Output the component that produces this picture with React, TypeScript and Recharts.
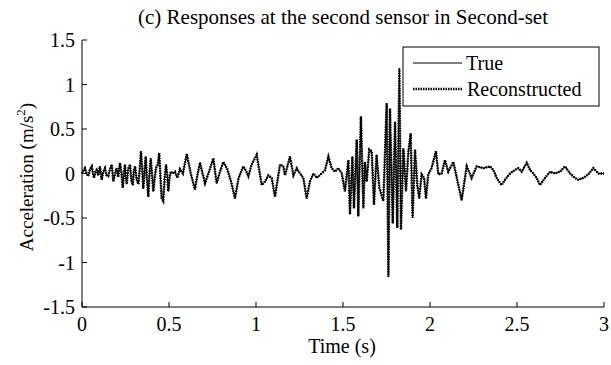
import { LineChart, Line, XAxis, YAxis } from 'recharts';

// [time (s), acceleration (m/s^2)], segment by segment
const quietStart: [number, number][] = [
  [0.0, 0.0], [0.008, 0.03], [0.017, 0.06], [0.026, 0.0], [0.036, -0.03], [0.046, 0.05],
  [0.056, 0.08], [0.063, 0.0], [0.069, -0.05], [0.077, 0.02], [0.084, 0.04], [0.093, -0.02],
  [0.103, 0.08], [0.113, -0.07], [0.122, 0.02], [0.132, 0.06], [0.141, -0.02], [0.151, -0.03],
  [0.161, 0.05], [0.171, 0.1], [0.18, -0.09], [0.19, 0.0], [0.199, 0.06], [0.208, -0.04],
  [0.218, 0.12], [0.226, 0.02], [0.234, -0.16], [0.241, 0.0], [0.247, 0.1], [0.252, -0.05],
  [0.257, -0.12], [0.265, 0.05], [0.276, 0.1], [0.284, -0.08], [0.292, -0.13], [0.298, 0.04],
];

const earlyBurst: [number, number][] = [
  [0.305, 0.08], [0.314, -0.07], [0.324, -0.12], [0.332, 0.05], [0.339, 0.25], [0.346, 0.05],
  [0.352, -0.17], [0.359, 0.0], [0.366, 0.19], [0.373, -0.05], [0.381, -0.26], [0.388, 0.0],
  [0.395, 0.17], [0.402, 0.0], [0.41, -0.2], [0.418, -0.05], [0.425, 0.06], [0.435, 0.1],
  [0.444, 0.23], [0.451, -0.05], [0.458, -0.28], [0.467, -0.31], [0.475, -0.05], [0.483, 0.1],
  [0.49, -0.02], [0.496, -0.2], [0.503, -0.05], [0.51, 0.02],
];

const midWave: [number, number][] = [
  [0.522, 0.0], [0.534, 0.02], [0.548, -0.05], [0.563, 0.05], [0.58, 0.0], [0.602, 0.22],
  [0.625, 0.0], [0.649, -0.18], [0.663, -0.02], [0.678, 0.12], [0.693, 0.0], [0.707, -0.11],
  [0.73, 0.02], [0.755, 0.17], [0.774, -0.11], [0.793, 0.02], [0.812, 0.13], [0.835, 0.05],
  [0.858, -0.1], [0.879, -0.28], [0.9, -0.05], [0.927, 0.08], [0.945, 0.02], [0.956, -0.03],
  [0.975, 0.1], [1.004, 0.21], [1.033, -0.13], [1.052, -0.09], [1.071, -0.02], [1.09, -0.05],
  [1.109, -0.26], [1.138, 0.1], [1.157, 0.08], [1.167, -0.02], [1.195, 0.19], [1.215, -0.02],
  [1.234, 0.06], [1.253, 0.0], [1.272, -0.05], [1.291, -0.28], [1.31, -0.09], [1.33, 0.0],
  [1.349, -0.05], [1.377, 0.0], [1.397, 0.04], [1.416, 0.19], [1.435, 0.06], [1.454, 0.02],
  [1.473, 0.06], [1.493, 0.0], [1.511, -0.2],
];

const mainBurst: [number, number][] = [
  [1.531, 0.15], [1.54, -0.46], [1.554, 0.19], [1.563, -0.39], [1.579, 0.38], [1.588, -0.48],
  [1.603, 0.64], [1.617, -0.39], [1.626, 0.13], [1.636, -0.09], [1.651, 0.27], [1.665, 0.25],
  [1.678, -0.35], [1.693, 0.21], [1.709, -0.16], [1.732, -0.31], [1.751, 0.79], [1.761, -1.16],
  [1.77, 0.73], [1.786, -0.56], [1.799, 0.58], [1.812, -0.61], [1.824, 1.18], [1.833, -0.63],
  [1.847, 0.28], [1.862, -0.2], [1.876, 0.25], [1.889, 0.45], [1.9, -0.5], [1.914, 0.27],
  [1.927, -0.13], [1.938, -0.28], [1.952, -0.01], [1.966, -0.05], [1.977, -0.28], [1.99, -0.01],
  [2.009, 0.06], [2.034, 0.25], [2.048, -0.01], [2.067, 0.0], [2.086, 0.15], [2.105, 0.02],
  [2.134, 0.13], [2.182, -0.3],
];

const tail: [number, number][] = [
  [2.211, 0.08], [2.239, -0.05], [2.268, 0.08], [2.307, 0.06], [2.345, 0.08], [2.364, 0.04],
  [2.383, -0.05], [2.411, -0.13], [2.431, -0.07], [2.46, 0.0], [2.488, 0.04], [2.508, 0.06],
  [2.527, 0.02], [2.556, 0.12], [2.575, 0.04], [2.594, 0.0], [2.613, -0.05], [2.632, -0.13],
  [2.661, -0.05], [2.69, 0.02], [2.718, 0.0], [2.747, 0.02], [2.776, 0.08], [2.805, 0.0],
  [2.833, -0.05], [2.852, -0.07], [2.881, -0.05], [2.91, -0.01], [2.939, 0.06], [2.968, 0.0],
  [2.996, 0.0], [3.0, 0.0],
];

const xTicks = [0, 0.5, 1, 1.5, 2, 2.5, 3];
const yTicks = [-1.5, -1, -0.5, 0, 0.5, 1, 1.5];

const title = '(c) Responses at the second sensor in Second-set';
const seriesNames = ['True', 'Reconstructed'];

const FONT = '"Liberation Serif", "Times New Roman", serif';

// the reconstruction lies on top of the true response everywhere in the plot
const trueResponse = [...quietStart, ...earlyBurst, ...midWave, ...mainBurst, ...tail];
const data = trueResponse.map(([t, v]) => ({ t, actual: v, reconstructed: v }));

export default function App() {
  const tickStyle = { fill: '#000', fontSize: 20, fontFamily: FONT };
  return (
    <div style={{ position: 'absolute', left: 0, top: 0, width: 611, height: 365, background: '#fff' }}>
      <LineChart width={611} height={365} data={data} margin={{ top: 40, right: 7, bottom: 28, left: 0 }}>
        <XAxis
          dataKey="t"
          type="number"
          domain={[0, 3]}
          ticks={xTicks}
          interval={0}
          height={30}
          tickSize={-5}
          tickMargin={15}
          stroke="#000"
          tick={tickStyle}
        />
        <XAxis
          xAxisId="top"
          orientation="top"
          dataKey="t"
          type="number"
          domain={[0, 3]}
          ticks={xTicks}
          interval={0}
          height={0}
          tickSize={-5}
          tick={false}
          stroke="#000"
        />
        <YAxis
          type="number"
          domain={[-1.5, 1.5]}
          ticks={yTicks}
          interval={0}
          width={82}
          tickSize={-5}
          tickMargin={12}
          stroke="#000"
          tick={tickStyle}
        />
        <YAxis
          yAxisId="right"
          orientation="right"
          type="number"
          domain={[-1.5, 1.5]}
          ticks={yTicks}
          interval={0}
          width={0}
          tickSize={-5}
          tick={false}
          stroke="#000"
        />
        <Line
          type="linear"
          dataKey="actual"
          stroke="#000"
          strokeWidth={1}
          dot={false}
          isAnimationActive={false}
        />
        <Line
          type="linear"
          dataKey="reconstructed"
          stroke="#000"
          strokeWidth={2.4}
          strokeDasharray="1.5 1"
          dot={false}
          isAnimationActive={false}
        />
      </LineChart>
      <svg
        width={611}
        height={365}
        style={{ position: 'absolute', left: 0, top: 0, pointerEvents: 'none' }}
        fontFamily={FONT}
      >
        <text x={343} y={24} textAnchor="middle" fontSize={21} fill="#000">
          {title}
        </text>
        <text x={342} y={353} textAnchor="middle" fontSize={20} fill="#000">
          Time (s)
        </text>
        <text x={33} y={177} textAnchor="middle" fontSize={19} fill="#000" transform="rotate(-90 33 177)">
          Acceleration (m/s
          <tspan dy={-8} fontSize={13}>2</tspan>
          <tspan dy={8}>)</tspan>
        </text>
        <rect x={403} y={47} width={196} height={59} fill="#fff" stroke="#000" strokeWidth={1} />
        <line x1={413} y1={63} x2={462} y2={63} stroke="#000" strokeWidth={1} />
        <text x={466} y={70} fontSize={20} fill="#000">{seriesNames[0]}</text>
        <line x1={413} y1={89} x2={462} y2={89} stroke="#000" strokeWidth={2.4} strokeDasharray="1.5 1" />
        <text x={467} y={96} fontSize={20} fill="#000">{seriesNames[1]}</text>
      </svg>
    </div>
  );
}
